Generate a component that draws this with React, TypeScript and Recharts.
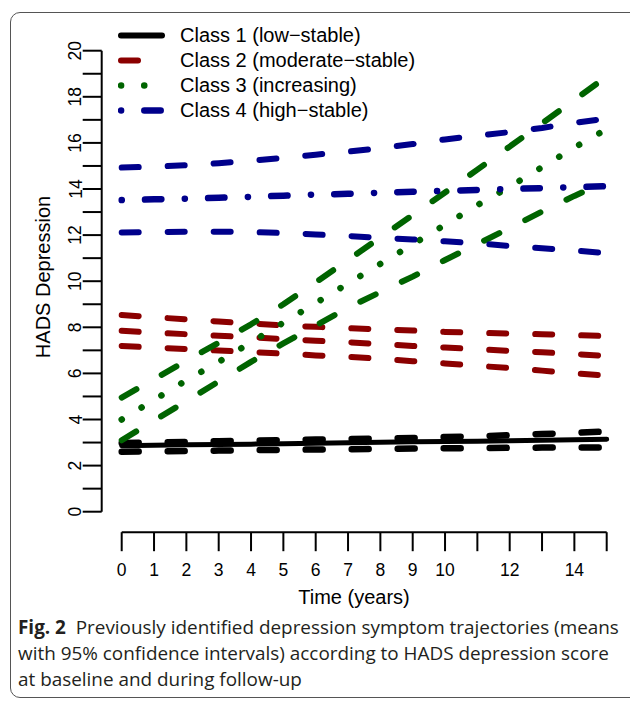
import { LineChart, Line, XAxis, YAxis } from "recharts";

// time in years
const YEARS = [0, 1, 2, 3, 4, 5, 6, 7, 8, 9, 10, 11, 12, 13, 14, 15];

// Class 1 (low-stable)
const C1_UPPER = [2.98, 3.0, 3.03, 3.06, 3.08, 3.11, 3.13, 3.15, 3.18, 3.2, 3.24, 3.27, 3.32, 3.37, 3.42, 3.48];
const C1_MEAN = [2.86, 2.88, 2.9, 2.92, 2.93, 2.95, 2.97, 2.99, 3.01, 3.03, 3.05, 3.06, 3.08, 3.1, 3.12, 3.14];
const C1_LOWER = [2.6, 2.62, 2.63, 2.65, 2.67, 2.68, 2.7, 2.71, 2.73, 2.74, 2.75, 2.76, 2.77, 2.78, 2.78, 2.79];

// Class 2 (moderate-stable)
const C2_UPPER = [8.53, 8.44, 8.34, 8.25, 8.17, 8.08, 8.02, 7.96, 7.91, 7.86, 7.8, 7.76, 7.73, 7.7, 7.66, 7.62];
const C2_MEAN = [7.85, 7.77, 7.7, 7.63, 7.57, 7.49, 7.42, 7.35, 7.27, 7.19, 7.12, 7.05, 6.98, 6.92, 6.84, 6.76];
const C2_LOWER = [7.19, 7.12, 7.06, 6.99, 6.93, 6.86, 6.78, 6.72, 6.63, 6.53, 6.43, 6.33, 6.23, 6.12, 6.0, 5.9];

// Class 3 (increasing)
const C3_UPPER = [4.95, 5.75, 6.55, 7.33, 8.13, 9.0, 9.95, 10.92, 11.9, 12.87, 13.85, 14.84, 15.84, 16.85, 17.86, 18.88];
const C3_MEAN = [4.0, 4.85, 5.7, 6.5, 7.35, 8.2, 9.05, 9.9, 10.75, 11.6, 12.45, 13.3, 14.1, 14.95, 15.8, 16.6];
const C3_LOWER = [3.1, 3.95, 4.8, 5.65, 6.5, 7.3, 8.08, 8.85, 9.53, 10.2, 10.92, 11.61, 12.31, 13.02, 13.7, 14.34];

// Class 4 (high-stable)
const C4_UPPER = [14.93, 14.97, 15.03, 15.12, 15.22, 15.35, 15.49, 15.62, 15.77, 15.95, 16.15, 16.31, 16.47, 16.65, 16.87, 17.05];
const C4_MEAN = [13.52, 13.55, 13.58, 13.62, 13.66, 13.71, 13.76, 13.79, 13.84, 13.88, 13.92, 13.96, 14.0, 14.04, 14.08, 14.12];
const C4_LOWER = [12.11, 12.13, 12.15, 12.15, 12.13, 12.09, 12.03, 11.96, 11.88, 11.81, 11.73, 11.64, 11.53, 11.43, 11.33, 11.22];

const X_TICKS = [0, 1, 2, 3, 4, 5, 6, 7, 8, 9, 10, 11, 12, 13, 14, 15];
const X_LABELS = [0, 1, 2, 3, 4, 5, 6, 7, 8, 9, 10, 12, 14];
const Y_TICKS = [0, 1, 2, 3, 4, 5, 6, 7, 8, 9, 10, 11, 12, 13, 14, 15, 16, 17, 18, 19, 20];
const Y_LABELS = [0, 2, 4, 6, 8, 10, 12, 14, 16, 18, 20];

const CLASS_NAMES = [
  "Class 1 (low\u2212stable)",
  "Class 2 (moderate\u2212stable)",
  "Class 3 (increasing)",
  "Class 4 (high\u2212stable)",
];

const BLACK = "#000000";
const RED = "#8b0000";
const GREEN = "#006400";
const BLUE = "#00008b";

const DASH = "17 29";
const DOT = "0.1 23.1";
const DOTDASH = "0.1 23.2 16.4 23.4";

const data = YEARS.map((t, i) => ({
  t,
  c1u: C1_UPPER[i], c1m: C1_MEAN[i], c1l: C1_LOWER[i],
  c2u: C2_UPPER[i], c2m: C2_MEAN[i], c2l: C2_LOWER[i],
  c3u: C3_UPPER[i], c3m: C3_MEAN[i], c3l: C3_LOWER[i],
  c4u: C4_UPPER[i], c4m: C4_MEAN[i], c4l: C4_LOWER[i],
}));

const SERIES = [
  { key: "c1u", color: BLACK, width: 6.5, dash: DASH },
  { key: "c1l", color: BLACK, width: 6.5, dash: DASH },
  { key: "c1m", color: BLACK, width: 5, dash: undefined },
  { key: "c2u", color: RED, width: 6, dash: DASH },
  { key: "c2m", color: RED, width: 6, dash: DASH },
  { key: "c2l", color: RED, width: 6, dash: DASH },
  { key: "c3u", color: GREEN, width: 6, dash: DASH },
  { key: "c3l", color: GREEN, width: 6, dash: DASH },
  { key: "c3m", color: GREEN, width: 6.5, dash: DOT },
  { key: "c4u", color: BLUE, width: 6, dash: DASH },
  { key: "c4l", color: BLUE, width: 6, dash: DASH },
  { key: "c4m", color: BLUE, width: 6.5, dash: DOTDASH },
];

const LEGEND = [
  { color: BLACK, width: 6, dash: undefined },
  { color: RED, width: 6, dash: DASH },
  { color: GREEN, width: 6.5, dash: DOT },
  { color: BLUE, width: 6.5, dash: DOTDASH },
];

const FONT = "'Liberation Sans', Arial, sans-serif";

function XTick({ x, y, payload }: any) {
  if (!X_LABELS.includes(payload.value)) return <g />;
  return (
    <text x={x} y={y + 24.5} textAnchor="middle" fontSize={17.5} fontFamily={FONT} fill="#000">
      {payload.value}
    </text>
  );
}

function YTick({ x, y, payload }: any) {
  if (!Y_LABELS.includes(payload.value)) return <g />;
  const bx = x - 1.2;
  return (
    <text x={bx} y={y} transform={`rotate(-90 ${bx} ${y})`} textAnchor="middle" fontSize={17.5} fontFamily={FONT} fill="#000">
      {payload.value}
    </text>
  );
}

function XTitle() {
  return (
    <text x={354} y={604} textAnchor="middle" fontSize={20} fontFamily={FONT} fill="#000">
      Time (years)
    </text>
  );
}

function YTitle() {
  return (
    <text x={50} y={277} transform="rotate(-90 50 277)" textAnchor="middle" fontSize={20} fontFamily={FONT} fill="#000">
      HADS Depression
    </text>
  );
}

export default function App() {
  return (
    <div style={{ position: "absolute", left: 0, top: 0, width: 630, height: 701, background: "#fff", overflow: "hidden" }}>
      <div
        style={{
          position: "absolute", left: 10, top: 12, width: 650, height: 686,
          border: "1px solid #555", borderRadius: 10, boxSizing: "border-box",
        }}
      />
      <div style={{ position: "absolute", left: 0, top: 0 }}>
        <LineChart width={630} height={701} data={data} margin={{ top: 50.7, right: 23.3, bottom: 88.8, left: 41.7 }}>
          <XAxis
            dataKey="t" type="number" domain={[0, 15]} ticks={X_TICKS} interval={0}
            padding={{ left: 20, right: 0 }} height={80} tickSize={19} tickMargin={0}
            axisLine={{ stroke: "#000", strokeWidth: 2, strokeDasharray: "0 20 485 200" }}
            tickLine={{ stroke: "#000", strokeWidth: 2 }}
            tick={<XTick />} label={<XTitle />}
          />
          <YAxis
            type="number" domain={[0, 20]} ticks={Y_TICKS} interval={0}
            padding={{ top: 0, bottom: 20.5 }} width={60} tickSize={19} tickMargin={0}
            axisLine={{ stroke: "#000", strokeWidth: 2, strokeDasharray: "461 200" }}
            tickLine={{ stroke: "#000", strokeWidth: 2 }}
            tick={<YTick />} label={<YTitle />}
          />
          {SERIES.map((s) => (
            <Line
              key={s.key} dataKey={s.key} type="linear" stroke={s.color} strokeWidth={s.width}
              strokeDasharray={s.dash} strokeLinecap="round" strokeLinejoin="round"
              dot={false} activeDot={false} isAnimationActive={false}
            />
          ))}
        </LineChart>
      </div>
      <div style={{ position: "absolute", left: 118, top: 22.5 }}>
        {LEGEND.map((l, i) => (
          <div key={i} style={{ display: "flex", alignItems: "center", height: 25 }}>
            <svg width={62} height={25} style={{ display: "block" }}>
              <line x1={3} y1={12.5} x2={44} y2={12.5} stroke={l.color} strokeWidth={l.width}
                strokeDasharray={l.dash} strokeLinecap="round" />
            </svg>
            <span style={{ fontFamily: FONT, fontSize: 20, color: "#000", whiteSpace: "nowrap", lineHeight: "25px" }}>
              {CLASS_NAMES[i]}
            </span>
          </div>
        ))}
      </div>
      <div
        style={{
          position: "absolute", left: 18, top: 614, fontFamily: "'Open Sans', 'Noto Sans', sans-serif",
          fontSize: 18.9, lineHeight: "26px", color: "#231f20", whiteSpace: "nowrap",
        }}
      >
        <div><b>Fig. 2</b>&nbsp; Previously identified depression symptom trajectories (means</div>
        <div>with 95% confidence intervals) according to HADS depression score</div>
        <div>at baseline and during follow-up</div>
      </div>
    </div>
  );
}
